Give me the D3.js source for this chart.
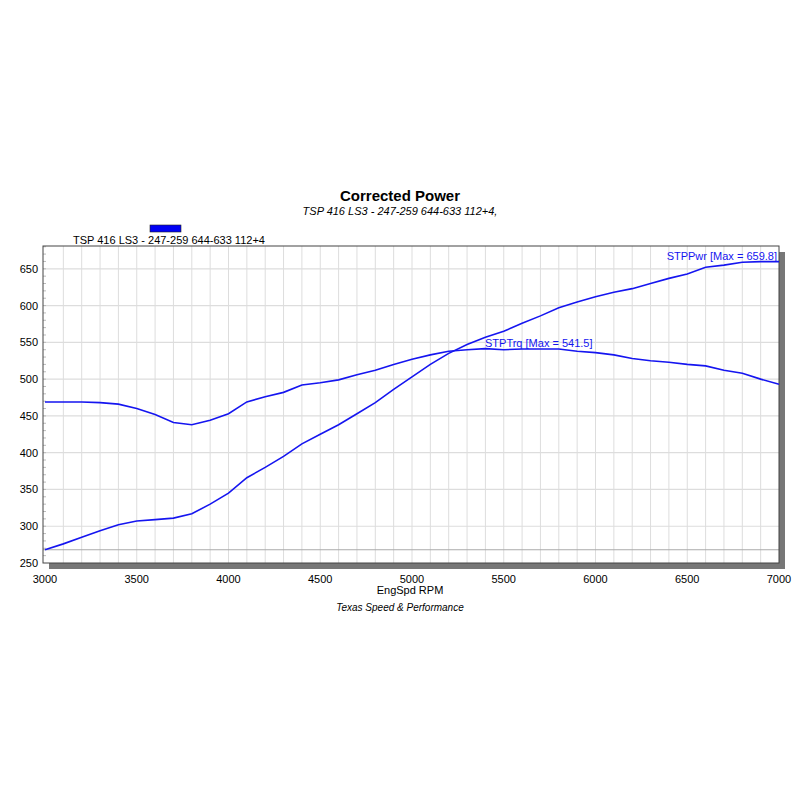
<!DOCTYPE html>
<html><head><meta charset="utf-8">
<script src="https://cdn.jsdelivr.net/npm/d3@7"></script>
<style>body{margin:0;background:#fff}svg{font-family:Arial,"Liberation Sans",sans-serif}</style>
</head><body>
<script>
const rpm = d3.range(3000, 7001, 100);
const power = [268,276,285,294,302,307,309,311,317,330,345,366,380,395,412,425,438,453,468,486,503,520,535,547,557,565,576,586,597,605,612,618,623,630,637,643,652,655,659,659.8,659.8];
const torque = [469,469,469,468,466,460,452,441,438,444,453,469,476,482,492,495,499,506,512,520,527,533,538,540,541.5,540,541,541,541,538,536,533,528,525,523,520,518,512,508,500,493];
const xTicks = d3.range(3000, 7001, 500);
const yTicks = [250,300,350,400,450,500,550,600,650];

const W = 800, H = 800, L = 43, R = 779, T = 246, B = 563;
const svg = d3.select("body").append("svg").attr("width", W).attr("height", H);
const x = d3.scaleLinear().domain([3000, 7000]).range([45, 779]);
const y = d3.scaleLinear().domain([250, 681]).range([B, T]);

// shadow
svg.append("rect").attr("x", L + 6).attr("y", T + 6).attr("width", R - L).attr("height", B - T).attr("fill", "#777");
svg.append("rect").attr("x", L).attr("y", T).attr("width", R - L).attr("height", B - T).attr("fill", "#fff");

const g = svg.append("g");
g.selectAll(".vg").data(d3.range(3100, 7000, 100)).join("line")
  .attr("x1", d => x(d)).attr("x2", d => x(d)).attr("y1", T).attr("y2", B)
  .attr("stroke", "#ddd").attr("stroke-width", 1);
g.selectAll(".hg").data(yTicks.slice(1)).join("line")
  .attr("x1", L).attr("x2", R).attr("y1", d => y(d)).attr("y2", d => y(d))
  .attr("stroke", "#ddd").attr("stroke-width", 1.2);
g.append("line").attr("x1", L).attr("x2", R).attr("y1", y(268)).attr("y2", y(268)).attr("stroke", "#aaa");
// minor y ticks
g.selectAll(".my").data(d3.range(260, 681, 10)).join("line")
  .attr("x1", L).attr("x2", L + 3).attr("y1", d => y(d)).attr("y2", d => y(d)).attr("stroke", "#bbb");

svg.append("rect").attr("x", L).attr("y", T).attr("width", R - L).attr("height", B - T)
  .attr("fill", "none").attr("stroke", "#444").attr("stroke-width", 1);

svg.append("g").selectAll("text").data(yTicks).join("text")
  .attr("x", L - 5).attr("y", d => y(d) + 4).attr("text-anchor", "end")
  .attr("font-size", 11).text(d => d);
svg.append("g").selectAll("text").data(xTicks).join("text")
  .attr("x", d => x(d)).attr("y", B + 20).attr("text-anchor", "middle")
  .attr("font-size", 11).text(d => d);

const line = d3.line().x((d, i) => x(rpm[i])).y(d => y(d));
[power, torque].forEach(s => svg.append("path").datum(s).attr("d", line)
  .attr("fill", "none").attr("stroke", "#1515f0").attr("stroke-width", 1.6));

svg.append("text").attr("x", 777).attr("y", 260).attr("text-anchor", "end")
  .attr("font-size", 11).attr("fill", "#1515f0").text("STPPwr [Max = 659.8]");
svg.append("text").attr("x", 485).attr("y", 347)
  .attr("font-size", 11).attr("fill", "#1515f0").text("STPTrq [Max = 541.5]");

svg.append("text").attr("x", 400).attr("y", 201).attr("text-anchor", "middle")
  .attr("font-size", 15).attr("font-weight", "bold").text("Corrected Power");
svg.append("text").attr("x", 400).attr("y", 215).attr("text-anchor", "middle")
  .attr("font-size", 11).attr("font-style", "italic").text("TSP 416 LS3 - 247-259 644-633 112+4,");
svg.append("rect").attr("x", 150).attr("y", 225).attr("width", 31).attr("height", 7)
  .attr("fill", "#0000f5").attr("stroke", "#222").attr("stroke-width", 0.6);
svg.append("text").attr("x", 73).attr("y", 244).attr("font-size", 11).text("TSP 416 LS3 - 247-259 644-633 112+4");
svg.append("text").attr("x", 410).attr("y", 594).attr("text-anchor", "middle")
  .attr("font-size", 11).text("EngSpd RPM");
svg.append("text").attr("x", 400).attr("y", 611).attr("text-anchor", "middle")
  .attr("font-size", 10).attr("font-style", "italic").text("Texas Speed & Performance");
</script>
</body></html>
